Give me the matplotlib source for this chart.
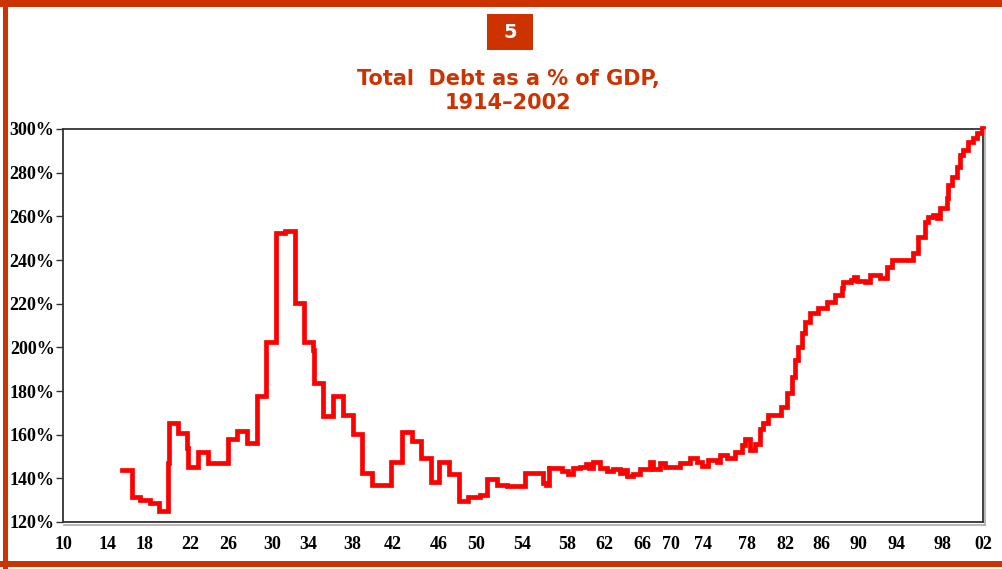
import matplotlib
matplotlib.use("Agg")
import matplotlib.pyplot as plt
from matplotlib.patches import Rectangle
from matplotlib.lines import Line2D

# -----------------------------------------------------
# data
# -----------------------------------------------------

# 1915-1958: start year of each step, debt as % of GDP
step_years = [1915.9, 1916.9, 1917.7, 1918.7, 1919.6, 1920.5, 1920.6, 1921.5, 1922.4, 1922.5,
              1923.5, 1924.5, 1926.5, 1927.4, 1928.4, 1929.4, 1930.3, 1931.3, 1932.2, 1933.2,
              1934.1, 1935.0, 1935.1, 1936.0, 1937.0, 1938.0, 1939.0, 1939.9, 1940.9, 1942.8,
              1943.9, 1944.9, 1945.8, 1946.8, 1947.6, 1948.6, 1949.6, 1950.5, 1951.7, 1952.4,
              1953.4, 1954.4, 1956.2, 1958.0, 1958.3, 1958.6]
step_debt = [143.8, 131.6, 130.1, 128.9, 125.2, 147.0, 165.2, 160.6, 153.8, 145.3,
             152.2, 147.0, 158.0, 161.8, 156.3, 177.7, 202.6, 252.5, 253.4, 220.5,
             202.6, 198.8, 183.5, 168.6, 177.7, 169.0, 160.2, 142.3, 136.9, 147.6,
             161.4, 157.0, 149.2, 138.5, 147.6, 141.8, 129.8, 131.3, 132.4, 139.6,
             137.0, 136.5, 142.3, 138.0, 137.0, 144.6]

# 1958-2002: finer steps
late_years = [1958.6, 1959.0, 1959.9, 1960.5, 1961.0, 1961.7, 1962.3, 1962.6, 1963.0, 1963.7,
              1964.4, 1965.0, 1965.7, 1966.0, 1966.4, 1967.0, 1967.7, 1968.5, 1968.7, 1969.0,
              1969.7, 1970.2, 1971.0, 1971.7, 1972.7, 1973.4, 1973.9, 1974.5, 1975.4, 1975.7,
              1976.4, 1977.2, 1977.9, 1978.2, 1978.7, 1979.2, 1979.7, 1980.0, 1980.5, 1981.5,
              1981.8, 1982.4, 1982.9, 1983.2, 1983.5, 1983.9, 1984.2, 1984.7, 1985.5, 1986.4,
              1987.2, 1987.9, 1988.0, 1988.8, 1989.1, 1989.4, 1990.2, 1990.7, 1991.2, 1991.7,
              1992.4, 1992.9, 1994.7, 1995.0, 1995.5, 1996.2, 1996.5, 1997.0, 1997.4, 1997.7,
              1998.4, 1998.5, 1998.9, 1999.4, 1999.7, 2000.0, 2000.5, 2001.0, 2001.4, 2001.9,
              2002.0]
late_debt = [144.6, 144.6, 143.4, 142.0, 144.6, 145.3, 146.5, 144.8, 147.6, 144.6,
             143.4, 144.1, 142.6, 143.8, 141.2, 141.8, 144.1, 144.1, 147.6, 144.3,
             146.9, 145.0, 145.0, 147.0, 149.2, 147.6, 145.6, 148.3, 147.6, 150.6,
             149.2, 152.2, 155.1, 158.1, 152.9, 155.8, 162.6, 165.2, 169.0, 169.0,
             172.8, 178.9, 186.6, 194.2, 200.3, 206.4, 211.8, 215.6, 217.9, 220.9,
             224.0, 227.0, 230.1, 230.9, 232.4, 230.5, 230.1, 233.1, 233.3, 231.6,
             237.0, 240.0, 240.0, 243.1, 250.7, 257.6, 259.9, 260.6, 259.1, 263.7,
             268.3, 274.4, 278.2, 282.8, 288.1, 290.4, 294.2, 295.7, 298.0, 300.3,
             300.3]

# x labels sit where the original put them (not evenly spaced)
tick_years = [1910, 1914.5, 1918.2, 1922.7, 1926.5, 1930.9, 1934.5, 1938.9, 1943.0, 1947.6,
              1951.3, 1955.9, 1960.4, 1964.1, 1967.9, 1970.8, 1974.0, 1978.4, 1982.2, 1985.8,
              1989.5, 1993.3, 1998.0, 2002.0]
tick_labels = ['10', '14', '18', '22', '26', '30', '34', '38', '42', '46', '50', '54',
               '58', '62', '66', '70', '74', '78', '82', '86', '90', '94', '98', '02']
y_ticks = [120, 140, 160, 180, 200, 220, 240, 260, 280, 300]

RED = '#cc3300'
W, H = 1003, 569

# -----------------------------------------------------
# figure and frame
# -----------------------------------------------------

fig = plt.figure(figsize=(W / 100, H / 100), dpi=100)

# orange page border (top, left, bottom)
fig.add_artist(Rectangle((0, 1 - 7 / H), 1, 7 / H, transform=fig.transFigure, color=RED, lw=0))
fig.add_artist(Rectangle((3 / W, 0), 5 / W, 1, transform=fig.transFigure, color=RED, lw=0))
fig.add_artist(Rectangle((0, 2 / H), 1, 6 / H, transform=fig.transFigure, color=RED, lw=0))

# chart number box
fig.add_artist(Rectangle((487 / W, 1 - 50 / H), 46 / W, 36 / H, transform=fig.transFigure,
                         color=RED, lw=0))
fig.text(510 / W, 1 - 33 / H, '5', color='white', fontsize=14, fontweight='bold',
         ha='center', va='center', family='DejaVu Sans')

fig.text(508 / W, 1 - 91 / H, 'Total  Debt as a % of GDP,\n1914\u20132002', color=RED,
         fontsize=15, fontweight='bold', ha='center', va='center', linespacing=1.25,
         family='DejaVu Sans')

# -----------------------------------------------------
# plot
# -----------------------------------------------------

ax = fig.add_axes([63 / W, 47 / H, 920 / W, 393 / H])
ax.plot(step_years, step_debt, drawstyle='steps-post', color='#ff0000', lw=3.4,
        solid_joinstyle='miter', clip_on=False, zorder=3)
ax.plot(late_years, late_debt, drawstyle='steps-post', color='#ff0000', lw=3.4,
        solid_joinstyle='miter', clip_on=False, zorder=3)

ax.set_xlim(1910, 2002)
ax.set_ylim(120, 300)
ax.set_xticks(tick_years)
ax.set_xticklabels(tick_labels)
ax.set_yticks(y_ticks)
ax.set_yticklabels([f'{v}%' for v in y_ticks])

for s in ax.spines.values():
    s.set_color('#333333')
    s.set_linewidth(1.3)

ax.tick_params(axis='x', length=0, pad=10)
ax.tick_params(axis='y', length=5, width=1, color='#333333', pad=1)
for lbl in ax.get_xticklabels() + ax.get_yticklabels():
    lbl.set_family('Liberation Serif')
    lbl.set_fontweight('bold')
    lbl.set_fontsize(13)

# soft shadow below and right of the plot frame
fig.add_artist(Line2D([64 / W, 985 / W], [1 - 525 / H, 1 - 525 / H], transform=fig.transFigure,
                      color='#aaaaaa', lw=1.2))
fig.add_artist(Line2D([985 / W, 985 / W], [1 - 525 / H, 1 - 130 / H], transform=fig.transFigure,
                      color='#aaaaaa', lw=1.2))

plt.savefig('out.png', dpi=100)
plt.close()
